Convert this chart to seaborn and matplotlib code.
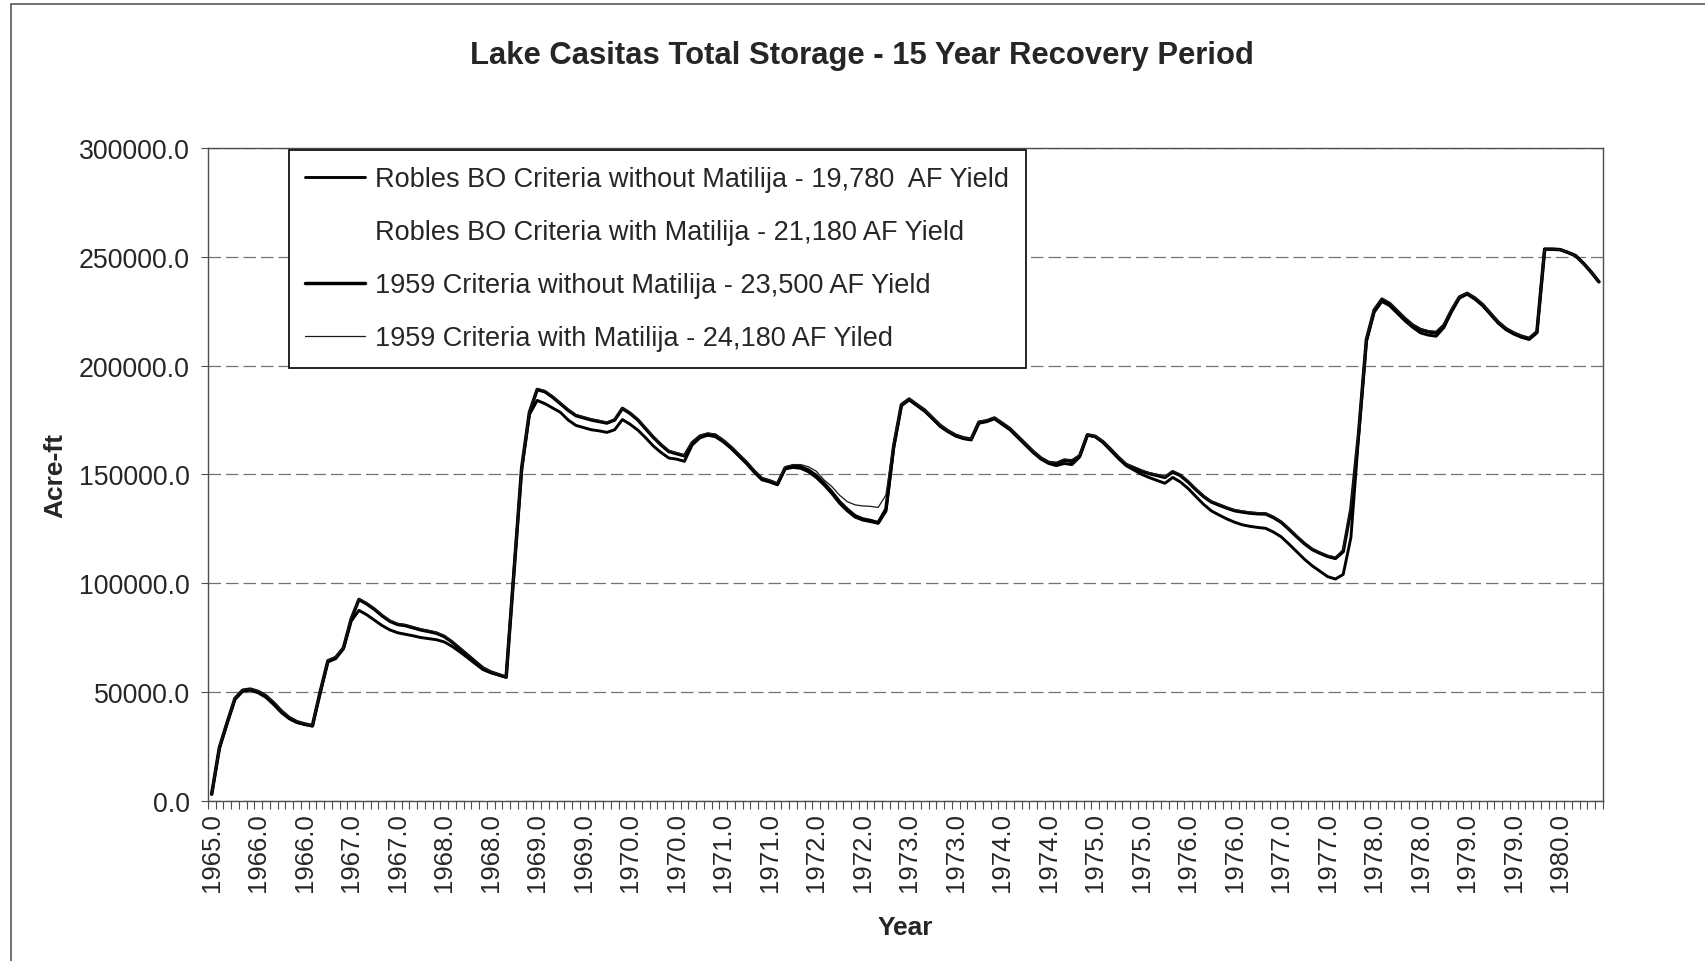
import matplotlib
matplotlib.use('Agg')
import matplotlib.pyplot as plt
import matplotlib.ticker as mticker
from matplotlib.patches import Rectangle
import seaborn as sns
import pandas as pd

# x-axis labels, one every 6 months (as printed on the original chart)
tick_labels = ['1965.0', '1966.0', '1966.0', '1967.0', '1967.0', '1968.0', '1968.0',
               '1969.0', '1969.0', '1970.0', '1970.0', '1971.0', '1971.0', '1972.0',
               '1972.0', '1973.0', '1973.0', '1974.0', '1974.0', '1975.0', '1975.0',
               '1976.0', '1976.0', '1977.0', '1977.0', '1978.0', '1978.0', '1979.0',
               '1979.0', '1980.0']

series_names = ['Robles BO Criteria without Matilija - 19,780  AF Yield',
                'Robles BO Criteria with Matilija - 21,180 AF Yield',
                '1959 Criteria without Matilija - 23,500 AF Yield',
                '1959 Criteria with Matilija - 24,180 AF Yiled']

# monthly total storage, acre-ft
robles_without = [
    3000, 24000, 35500, 46500, 50300, 50800, 49600, 47500, 44200, 40500, 37700, 35900, 35000, 34300, 49500, 63800, 65300, 69800, 82500,
    87500, 85500, 83000, 80500, 78500, 77200, 76500, 75800, 75000, 74500, 74000, 73000, 71000, 68500, 65800, 63000, 60300, 58800, 57800, 56800, 105000, 152000, 177500,
    184000, 182500, 180500, 178500, 175000, 172500, 171500, 170500, 170000, 169300, 170500, 175200, 173000, 170300, 166800, 163000, 160000, 157500, 157000, 156000,
    163500, 166800, 168000, 167300, 165000, 162000, 158500, 155000, 151000, 147500, 146500, 145200, 152500, 153200, 152800, 151200, 148600,
    145200, 141300, 136800, 133300, 130400, 129000, 128300, 127500, 133000, 162000, 181500, 184200, 181600, 179000, 175600, 172000, 169600, 167600, 166400, 165800,
    173500, 174200, 175500, 173000, 170500, 167000, 163500, 160000, 157000, 155000, 154000, 155000, 154500, 158000, 168000, 167300, 164700, 161000, 157300, 154000,
    152000, 150000, 148500, 147200, 145900, 148600, 146500, 143500, 139800, 136200, 133200, 131300, 129500, 128000, 126800, 126100, 125600, 125200, 123500, 121300, 118000, 114500, 111000, 108000, 105500, 103000, 101900, 104000, 121000,
    168000, 211000, 224500, 229500, 227500, 224000, 220500, 217500, 215000, 214000, 213500, 217500, 224800, 231000, 232800, 230500, 227500, 223500, 219500, 216500, 214500, 213000, 212000, 215000, 253500, 253500, 253300, 252000, 250500, 247000, 243000, 238500,
]

robles_with = [
    3000, 24200, 35800, 46800, 50500, 51000, 49900, 47800, 44600, 40800, 37900, 36100, 35100, 34400, 49800, 64000, 65500, 70000, 83000,
    88000, 86000, 83500, 81000, 79000, 77600, 76900, 76200, 75400, 74900, 74400, 73300, 71300, 68800, 66000, 63200, 60500, 59000, 57900, 56900, 105000, 152500, 178000,
    184500, 183000, 181000, 179000, 175500, 173000, 172000, 171000, 170400, 169700, 171000, 175800, 173500, 170800, 167300, 163500, 160400, 157900, 157300, 156400,
    164000, 167000, 168200, 167600, 165200, 162200, 158800, 155200, 151200, 147800, 146800, 145400, 152800, 153500, 153100, 151600, 149000,
    145600, 141600, 137100, 133600, 130700, 129300, 128500, 127600, 133500, 162500, 181800, 184400, 181800, 179200, 175800, 172200, 169800, 167800, 166600, 166000,
    173800, 174400, 175700, 173200, 170800, 167200, 163800, 160200, 157200, 155200, 154500, 155800, 155200, 158200, 168100, 167400, 164800, 161200, 157500, 154200,
    152500, 150700, 149300, 148000, 146800, 149500, 147400, 144400, 140700, 137200, 134300, 132400, 130700, 129300, 128100, 127400, 126900, 126500, 124800, 122600, 119300, 115800, 112300, 109300, 106700, 104300, 103100, 105500, 124000,
    168500, 211500, 225000, 230000, 228000, 224500, 221000, 218000, 215800, 214800, 214200, 218000, 225200, 231200, 233000, 230800, 227800, 223800, 219800, 216800, 214800, 213200, 212200, 215200, 253500, 253500, 253300, 252000, 250500, 247000, 243000, 238500,
]

c1959_without = [
    3000, 24500, 36000, 47000, 50800, 51300, 50200, 48200, 45000, 41200, 38200, 36300, 35300, 34500, 50000, 64300, 65800, 70200, 83500,
    92500, 90500, 88000, 85000, 82500, 81000, 80500, 79500, 78500, 77800, 77000, 75500, 73000, 70000, 67000, 64000, 61000, 59200, 58000, 56800, 105000, 153000, 178500,
    189000, 188000, 185500, 182500, 179500, 177000, 176000, 175000, 174300, 173600, 175000, 180300, 178000, 175000, 171000, 167000, 163500, 160500, 159500, 158500,
    164500, 167500, 168500, 168000, 165500, 162500, 159000, 155500, 151500, 148000, 147000, 145600, 153000, 153800, 153500, 152000, 149500,
    146000, 142000, 137500, 134000, 131000, 129500, 128800, 127800, 134000, 163000, 182000, 184600, 182000, 179500, 176000, 172500, 170000, 168000, 166800, 166200,
    174000, 174600, 175900, 173500, 171000, 167500, 164000, 160500, 157500, 155500, 155000, 156500, 156000, 158500, 168200, 167500, 165000, 161500, 157800, 154500,
    153000, 151500, 150300, 149500, 148600, 151200, 149500, 146500, 143000, 139800, 137300, 135900, 134500, 133300, 132700, 132200, 131900, 131800, 130200, 128000, 124800, 121400, 118200, 115500, 113800, 112300, 111400, 114500, 134000,
    169000, 212000, 225500, 230500, 228500, 225000, 221500, 218500, 216500, 215500, 215000, 218500, 225500, 231500, 233200, 231000, 228000, 224000, 220000, 217000, 215000, 213500, 212500, 215500, 253500, 253500, 253300, 252000, 250500, 247000, 243000, 238500,
]

c1959_with = [
    3000, 24800, 36300, 47300, 51000, 51500, 50500, 48600, 45500, 41700, 38600, 36600, 35500, 34700, 50300, 64600, 66100, 70500, 84000,
    93000, 91000, 88500, 85500, 83000, 81500, 81000, 80000, 79000, 78300, 77500, 76000, 73500, 70500, 67500, 64500, 61500, 59500, 58200, 57000, 105500, 153500, 179000,
    189500, 188500, 186000, 183000, 180000, 177500, 176500, 175500, 174800, 174000, 175500, 180800, 178500, 175500, 171500, 167500, 164000, 161000, 160000, 159000,
    165000, 168000, 169000, 168500, 166000, 163000, 159500, 156000, 152000, 148500, 147500, 146000, 153500, 154500, 154500, 153500, 151500,
    147500, 144500, 140500, 137500, 136000, 135500, 135300, 134800, 140500, 165000, 182500, 185000, 182300, 179800, 176300, 172800, 170300, 168300, 167000, 166500,
    174300, 175000, 176200, 173800, 171300, 167800, 164300, 160800, 157800, 155800, 155500, 157000, 156800, 159000, 168400, 167700, 165200, 161800, 158200, 155000,
    153500, 152000, 150800, 150000, 149000, 151600, 150000, 147000, 143500, 140300, 137800, 136400, 135000, 133800, 133200, 132700, 132400, 132300, 130700, 128500, 125300, 121900, 118700, 116000, 114300, 112800, 111900, 115500, 136000,
    170000, 212500, 226000, 231000, 229000, 225500, 222000, 219000, 217000, 216000, 215800, 219000, 226000, 231800, 233500, 231300, 228300, 224300, 220300, 217300, 215300, 213800, 212800, 216000, 253500, 253500, 253300, 252000, 250500, 247000, 243000, 238500,
]

df = pd.DataFrame({
    'month': list(range(len(robles_without))),
    series_names[0]: robles_without,
    series_names[1]: robles_with,
    series_names[2]: c1959_without,
    series_names[3]: c1959_with,
})

sns.set_style('white')
plt.rcParams['font.family'] = ['Liberation Sans', 'DejaVu Sans']

fig = plt.figure(figsize=(17.06, 9.62), dpi=100)
ax = fig.add_axes([0.1218, 0.1666, 0.8177, 0.6785])

# colour, width, zorder  (the 2nd series is white in the original, so it hides)
styles = [('black', 2.1, 3), ('white', 1.6, 2), ('black', 2.5, 4), ('#1a1a1a', 0.9, 5)]
for name, (col, lw, z) in zip(series_names, styles):
    sns.lineplot(data=df, x='month', y=name, ax=ax, color=col, linewidth=lw,
                 zorder=z, label=name)

ax.set_xlim(-0.5, len(df) - 0.5)
ax.set_ylim(0, 300000)
ax.yaxis.set_major_locator(mticker.MultipleLocator(50000))
ax.yaxis.set_major_formatter(mticker.FormatStrFormatter('%.1f'))
ax.set_xticks(list(range(0, len(df), 6)))
ax.set_xticklabels(tick_labels, rotation=90)
ax.set_xticks([m - 0.5 for m in range(len(df) + 1)], minor=True)
ax.tick_params(axis='x', which='major', length=0, pad=8, labelsize=18.5)
ax.tick_params(axis='x', which='minor', length=6, width=0.8, color='0.3', direction='out', bottom=True)
ax.tick_params(axis='y', length=5, width=0.8, color='0.3', direction='out', left=True, pad=8, labelsize=19.3)

ax.yaxis.grid(True, color='0.45', linewidth=0.9, linestyle=(0, (10, 4)))
ax.xaxis.grid(False)
for s in ax.spines.values():
    s.set_color('0.3')
    s.set_linewidth(1.0)

ax.set_xlabel('Year', fontsize=19, fontweight='bold')
ax.set_ylabel('Acre-ft', fontsize=19, fontweight='bold')
ax.xaxis.set_label_coords(0.5, -0.175)
ax.yaxis.set_label_coords(-0.101, 0.5)

handles, labels = ax.get_legend_handles_labels()
leg = ax.legend(handles, labels, loc='upper left', bbox_to_anchor=(0.058, 0.997),
                borderaxespad=0, fontsize=19.5, frameon=True, fancybox=False,
                framealpha=1, edgecolor='black', handlelength=2.2,
                handletextpad=0.4, labelspacing=1.0, borderpad=0.6)
leg.get_frame().set_linewidth(1.2)

fig.text(0.505, 0.942, 'Lake Casitas Total Storage - 15 Year Recovery Period',
         ha='center', va='center', fontsize=22.3, fontweight='bold')

# outer chart-area border of the original
fig.patches.append(Rectangle((0.0065, -0.01), 1.5, 1.0045, transform=fig.transFigure,
                             fill=False, edgecolor='0.35', linewidth=1.2))

plt.savefig('out.png', dpi=100)
plt.close()
